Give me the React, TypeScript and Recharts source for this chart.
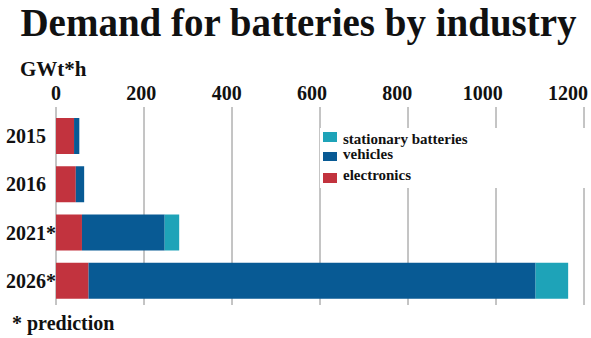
import React from 'react';
import { BarChart, Bar, XAxis, YAxis, CartesianGrid } from 'recharts';

const years = ['2015', '2016', '2021*', '2026*'];
const electronics = [41, 45, 59, 74];
const vehicles = [12, 19, 188, 1016];
const stationary = [0, 0, 33, 74];
const xTicks = [0, 200, 400, 600, 800, 1000, 1200];

const data = years.map((y, i) => ({
  year: y,
  electronics: electronics[i],
  vehicles: vehicles[i],
  stationary: stationary[i],
}));

const SERIF = '"Liberation Serif", "Times New Roman", serif';
const C_EL = '#c2333e';
const C_VE = '#085a94';
const C_ST = '#1ea3b8';

const XTick = (props: any) => {
  const { x, y, payload } = props;
  // labels in the reference drift slightly left of their gridlines
  const shift = -payload.value * 0.0133;
  return (
    <text x={x + shift} y={y + 1} textAnchor="middle" fontFamily={SERIF} fontWeight="bold" fontSize={20} fill="#111">
      {payload.value}
    </text>
  );
};

const YTick = (props: any) => {
  const { y, payload } = props;
  return (
    <text x={6} y={y} dy={7} textAnchor="start" fontFamily={SERIF} fontWeight="bold" fontSize={20} fill="#111">
      {payload.value}
    </text>
  );
};

const legendRows = [
  { key: 'stationary', label: 'stationary batteries', color: C_ST, sw: [132, 142], base: 145 },
  { key: 'vehicles', label: 'vehicles', color: C_VE, sw: [152, 161], base: 160 },
  { key: 'electronics', label: 'electronics', color: C_EL, sw: [173, 183], base: 181 },
];

const LegendBox = () => (
  <div style={{ position: 'absolute', left: 320, top: 128, width: 270, height: 60, background: '#fff' }}>
    {legendRows.map((r) => (
      <React.Fragment key={r.key}>
        <div
          style={{
            position: 'absolute',
            left: 3,
            top: r.sw[0] - 128,
            width: 14,
            height: r.sw[1] - r.sw[0],
            background: r.color,
          }}
        />
        <div
          style={{
            position: 'absolute',
            left: 23,
            top: r.base - 128 - 12.6,
            fontFamily: SERIF,
            fontWeight: 'bold',
            fontSize: 15,
            lineHeight: 1,
            color: '#111',
            whiteSpace: 'nowrap',
          }}
        >
          {r.label}
        </div>
      </React.Fragment>
    ))}
  </div>
);

export default function App() {
  return (
    <div style={{ position: 'absolute', left: 0, top: 0, width: 591, height: 338, background: '#fff', overflow: 'hidden' }}>
      <div
        style={{
          position: 'absolute',
          left: 0,
          width: 597,
          top: 3,
          textAlign: 'center',
          fontFamily: SERIF,
          fontWeight: 'bold',
          fontSize: 39,
          lineHeight: 1,
          color: '#111',
          whiteSpace: 'nowrap',
        }}
      >
        Demand for batteries by industry
      </div>
      <div
        style={{
          position: 'absolute',
          left: 20,
          top: 59,
          fontFamily: SERIF,
          fontWeight: 'bold',
          fontSize: 21,
          lineHeight: 1,
          color: '#111',
        }}
      >
        GWt*h
      </div>
      <div
        style={{
          position: 'absolute',
          left: 12,
          top: 313,
          fontFamily: SERIF,
          fontWeight: 'bold',
          fontSize: 20,
          lineHeight: 1,
          color: '#111',
        }}
      >
        * prediction
      </div>
      <div style={{ position: 'absolute', left: 0, top: 0 }}>
        <BarChart
          width={591}
          height={338}
          data={data}
          layout="vertical"
          margin={{ top: 77, right: 7, bottom: 33, left: 0 }}
          barCategoryGap={6}
        >
          <CartesianGrid horizontal={false} vertical={true} stroke="#8a8a8a" strokeWidth={1} />
          <XAxis
            type="number"
            orientation="top"
            domain={[0, 1200]}
            ticks={xTicks}
            height={30}
            axisLine={false}
            tickLine={false}
            tick={<XTick />}
            interval={0}
          />
          <YAxis
            type="category"
            dataKey="year"
            width={56}
            axisLine={false}
            tickLine={false}
            tick={<YTick />}
            padding={{ top: 5, bottom: 0 }}
          />
          <Bar dataKey="electronics" stackId="a" fill={C_EL} isAnimationActive={false} />
          <Bar dataKey="vehicles" stackId="a" fill={C_VE} isAnimationActive={false} />
          <Bar dataKey="stationary" stackId="a" fill={C_ST} isAnimationActive={false} />
        </BarChart>
      </div>
      <LegendBox />
    </div>
  );
}
